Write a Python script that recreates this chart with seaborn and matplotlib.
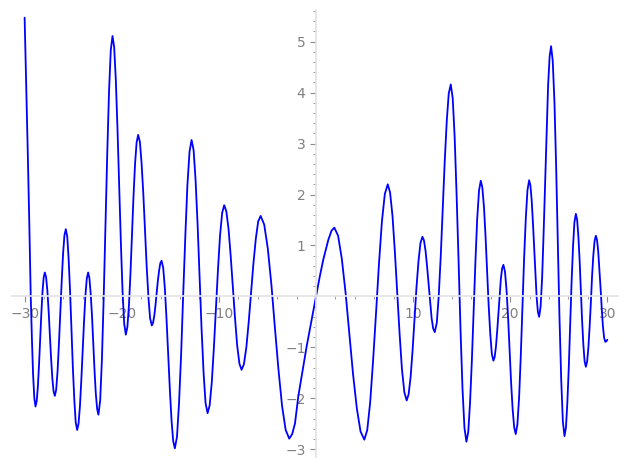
import numpy as np
import pandas as pd
import matplotlib
matplotlib.use("Agg")
import matplotlib.pyplot as plt
import matplotlib.ticker as mticker
import seaborn as sns

x_vals = [
    -30.00, -29.84, -29.68, -29.52, -29.37, -29.25, -29.13, -29.00,
    -28.88,
    -28.76, -28.64, -28.52, -28.40, -28.28, -28.16, -28.04, -27.92,
    -27.79, -27.66, -27.53, -27.41, -27.28, -27.15, -27.02, -26.89,
    -26.75, -26.61, -26.47, -26.33, -26.18, -26.04, -25.90, -25.76,
    -25.61, -25.47, -25.32, -25.18, -25.03, -24.88, -24.74, -24.59,
    -24.45, -24.31, -24.17, -24.03, -23.88, -23.74, -23.60, -23.46,
    -23.33, -23.20, -23.06, -22.93, -22.80, -22.67, -22.53, -22.40,
    -22.22, -22.04, -21.86, -21.68, -21.49, -21.31, -21.13, -20.95,
    -20.78, -20.61, -20.44, -20.27, -20.09, -19.92, -19.75, -19.58,
    -19.42, -19.26, -19.10, -18.95, -18.79, -18.63, -18.47, -18.31,
    -18.13, -17.96, -17.78, -17.61, -17.43, -17.25, -17.08, -16.90,
    -16.78, -16.65, -16.53, -16.40, -16.28, -16.15, -16.03, -15.90,
    -15.73, -15.56, -15.39, -15.22, -15.04, -14.87, -14.70, -14.53,
    -14.31, -14.10, -13.88, -13.67, -13.45, -13.24, -13.02, -12.81,
    -12.60, -12.40, -12.19, -11.99, -11.78, -11.57, -11.37, -11.16,
    -10.95, -10.73, -10.52, -10.31, -10.09, -9.88, -9.66, -9.45,
    -9.23, -9.00, -8.78, -8.56, -8.33, -8.11, -7.88, -7.66,
    -7.42, -7.17, -6.93, -6.68, -6.44, -6.19, -5.95, -5.70,
    -5.33, -4.96, -4.59, -4.23, -3.86, -3.49, -3.12, -2.75,
    -2.45, -2.16, -1.82, -1.39, -0.96, -0.48, 0.00, 0.38, 0.75, 1.27, 1.60, 1.89,
    2.28, 2.66, 3.05, 3.44, 3.82, 4.21, 4.59, 4.98,
    5.28, 5.58, 5.88, 6.19, 6.49, 6.79, 7.09, 7.39,
    7.63, 7.88, 8.12, 8.37, 8.61, 8.85, 9.10, 9.34,
    9.54, 9.75, 9.95, 10.15, 10.35, 10.56, 10.76, 10.96,
    11.12, 11.28, 11.44, 11.60, 11.76, 11.91, 12.07, 12.23,
    12.44, 12.64, 12.85, 13.06, 13.26, 13.47, 13.67, 13.88,
    14.08, 14.28, 14.48, 14.69, 14.89, 15.09, 15.29, 15.49,
    15.68, 15.86, 16.05, 16.23, 16.42, 16.60, 16.79, 16.97,
    17.13, 17.30, 17.46, 17.62, 17.78, 17.95, 18.11, 18.27,
    18.40, 18.53, 18.66, 18.79, 18.91, 19.04, 19.17, 19.30,
    19.46, 19.62, 19.78, 19.94, 20.09, 20.25, 20.41, 20.57,
    20.74, 20.92, 21.09, 21.26, 21.43, 21.61, 21.78, 21.95,
    22.08, 22.21, 22.34, 22.47, 22.59, 22.72, 22.85, 22.98,
    23.13, 23.29, 23.44, 23.60, 23.75, 23.90, 24.06, 24.21,
    24.38, 24.56, 24.73, 24.90, 25.07, 25.25, 25.42, 25.59,
    25.74, 25.88, 26.03, 26.18, 26.32, 26.47, 26.61, 26.76,
    26.89, 27.02, 27.15, 27.28, 27.40, 27.53, 27.66, 27.79,
    27.92, 28.05, 28.18, 28.31, 28.43, 28.56, 28.69, 28.82,
    28.94, 29.06, 29.18, 29.31, 29.43, 29.55, 29.67, 29.79,
    29.90, 30.00,
]
y_vals = [
    5.47, 4.20, 2.85, 1.45, 0.00, -0.83, -1.53, -2.00,
    -2.16,
    -2.06, -1.78, -1.35, -0.85, -0.34, 0.09, 0.37, 0.47,
    0.38, 0.12, -0.28, -0.74, -1.20, -1.60, -1.86, -1.95,
    -1.83, -1.47, -0.94, -0.32, 0.31, 0.84, 1.20, 1.32,
    1.17, 0.74, 0.10, -0.65, -1.41, -2.04, -2.47, -2.62,
    -2.50, -2.17, -1.67, -1.08, -0.48, 0.02, 0.35, 0.47,
    0.36, 0.06, -0.39, -0.93, -1.46, -1.91, -2.21, -2.32,
    -2.04, -1.23, -0.03, 1.40, 2.82, 4.02, 4.83, 5.11,
    4.89, 4.25, 3.30, 2.18, 1.06, 0.11, -0.53, -0.75,
    -0.60, -0.18, 0.46, 1.21, 1.96, 2.60, 3.02, 3.17,
    3.03, 2.62, 2.02, 1.30, 0.58, -0.02, -0.43, -0.57,
    -0.52, -0.38, -0.18, 0.07, 0.31, 0.51, 0.65, 0.70,
    0.56, 0.16, -0.44, -1.14, -1.85, -2.44, -2.84, -2.98,
    -2.75, -2.09, -1.11, 0.05, 1.20, 2.18, 2.84, 3.07,
    2.87, 2.29, 1.42, 0.39, -0.64, -1.51, -2.09, -2.29,
    -2.14, -1.69, -1.03, -0.25, 0.53, 1.19, 1.64, 1.79,
    1.67, 1.32, 0.79, 0.18, -0.44, -0.97, -1.32, -1.44,
    -1.33, -1.00, -0.51, 0.07, 0.65, 1.14, 1.47, 1.58,
    1.41, 0.94, 0.23, -0.61, -1.44, -2.15, -2.62, -2.79,
    -2.70, -2.49, -1.96, -1.47, -0.98, -0.49, 0.00, 0.38, 0.72, 1.11, 1.29, 1.35,
    1.19, 0.74, 0.07, -0.73, -1.53, -2.20, -2.65, -2.81,
    -2.62, -2.08, -1.26, -0.31, 0.65, 1.47, 2.01, 2.20,
    2.04, 1.58, 0.89, 0.08, -0.73, -1.42, -1.88, -2.04,
    -1.92, -1.57, -1.05, -0.44, 0.18, 0.70, 1.05, 1.17,
    1.10, 0.90, 0.59, 0.24, -0.12, -0.43, -0.63, -0.70,
    -0.52, 0.01, 0.80, 1.73, 2.66, 3.45, 3.98, 4.16,
    3.89, 3.13, 2.00, 0.66, -0.69, -1.82, -2.58, -2.85,
    -2.66, -2.10, -1.27, -0.29, 0.69, 1.52, 2.08, 2.27,
    2.14, 1.75, 1.18, 0.51, -0.17, -0.74, -1.13, -1.26,
    -1.19, -0.99, -0.68, -0.32, 0.04, 0.35, 0.55, 0.62,
    0.49, 0.13, -0.40, -1.04, -1.68, -2.21, -2.57, -2.70,
    -2.51, -1.97, -1.16, -0.21, 0.74, 1.55, 2.09, 2.28,
    2.18, 1.89, 1.45, 0.94, 0.43, -0.01, -0.30, -0.40,
    -0.20, 0.38, 1.24, 2.26, 3.27, 4.13, 4.71, 4.91,
    4.62, 3.79, 2.55, 1.09, -0.38, -1.62, -2.45, -2.74,
    -2.57, -2.10, -1.40, -0.56, 0.28, 0.98, 1.45, 1.62,
    1.51, 1.18, 0.70, 0.12, -0.46, -0.94, -1.27, -1.38,
    -1.28, -1.00, -0.59, -0.10, 0.40, 0.81, 1.09, 1.19,
    1.11, 0.89, 0.55, 0.15, -0.25, -0.59, -0.81, -0.89,
    -0.88, -0.85,
]

x_major = [-30, -20, -10, 10, 20, 30]
x_labels = ["\u221230", "\u221220", "\u221210", "10", "20", "30"]
y_major = [-3, -2, -1, 1, 2, 3, 4, 5]
y_labels = ["\u22123", "\u22122", "\u22121", "1", "2", "3", "4", "5"]

df = pd.DataFrame({"x": x_vals, "y": y_vals})

sns.set_style("white")
plt.rcParams["font.family"] = ["DejaVu Sans"]

fig = plt.figure(figsize=(6.27, 4.68), dpi=100)
ax = fig.add_axes([12 / 627, 11 / 468, 606 / 627, 447 / 468])

sns.lineplot(data=df, x="x", y="y", sort=False, estimator=None,
             color="#0000ff", linewidth=1.3, ax=ax)
ax.lines[-1].set_solid_joinstyle("round")

ax.set_xlim(-31.3, 31.1)
ax.set_ylim(-3.15, 5.62)

axis_col = "#e3e3e3"
for side in ["top", "right"]:
    ax.spines[side].set_visible(False)
for side in ["left", "bottom"]:
    ax.spines[side].set_position("zero")
    ax.spines[side].set_color(axis_col)
    ax.spines[side].set_linewidth(1.2)

ax.set_xticks(x_major)
ax.set_xticklabels(x_labels)
ax.set_yticks(y_major)
ax.set_yticklabels(y_labels)
ax.xaxis.set_minor_locator(mticker.MultipleLocator(2))
ax.yaxis.set_minor_locator(mticker.MultipleLocator(0.2))

ax.tick_params(which="major", direction="out", length=4, width=0.8,
               color="#8c8c8c", labelcolor="#808080", labelsize=10)
ax.tick_params(which="minor", direction="out", length=2, width=0.6,
               color="#8c8c8c")
ax.tick_params(axis="x", which="both", bottom=True, top=False)
ax.tick_params(axis="y", which="both", left=True, right=False)

ax.set_xlabel("")
ax.set_ylabel("")
ax.grid(False)

fig.savefig("out.png", dpi=100)
